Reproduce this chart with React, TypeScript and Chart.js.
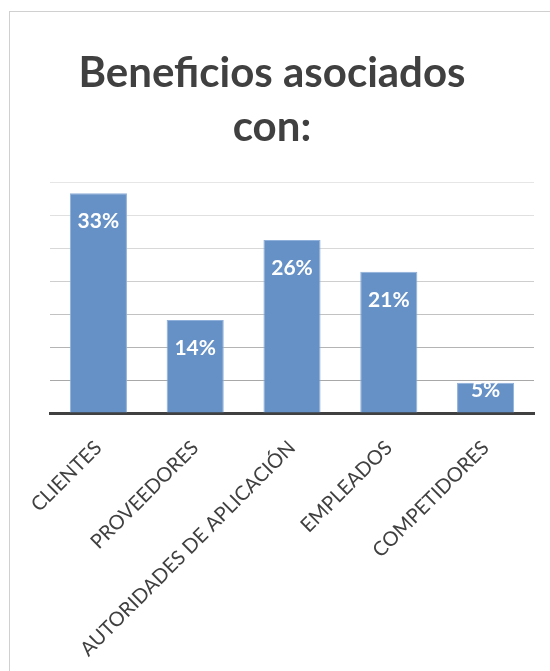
import React, { useEffect, useRef } from "react";
import { Chart, registerables } from "chart.js";

Chart.register(...registerables);

const categories = [
  "CLIENTES",
  "PROVEEDORES",
  "AUTORIDADES DE APLICACIÓN",
  "EMPLEADOS",
  "COMPETIDORES",
];
const values = [33.3, 14.1, 26.2, 21.4, 4.6];
const titleLines = ["Beneficios asociados", "con:"];
const yMin = 0;
const yMax = 35;
const yStep = 5;

const gridColors = [
  "#a0a0a0",
  "#a8a8a8",
  "#b4b4b4",
  "#c2c2c2",
  "#cecece",
  "#d8d8d8",
  "#e0e0e0",
  "#e6e6e6",
];

const FONT = "Lato, 'Open Sans', sans-serif";

const labelPlugin = {
  id: "barLabels",
  afterDatasetsDraw(chart: any) {
    const ctx = chart.ctx;
    const meta = chart.getDatasetMeta(0);
    ctx.save();
    ctx.fillStyle = "#ffffff";
    ctx.font = `bold 21px ${FONT}`;
    ctx.textAlign = "center";
    ctx.textBaseline = "middle";
    meta.data.forEach((bar: any, i: number) => {
      const v = chart.data.datasets[0].data[i] as number;
      const y = Math.min(bar.y + 28, bar.base - 22);
      ctx.fillText(`${Math.round(v)}%`, bar.x, y);
    });
    ctx.restore();
  },
};

export default function App() {
  const ref = useRef<HTMLCanvasElement>(null);

  useEffect(() => {
    document.body.style.margin = "0";
    const chart = new Chart(ref.current!, {
      type: "bar",
      data: {
        labels: categories,
        datasets: [
          {
            data: values,
            backgroundColor: "#6691c6",
            borderColor: "#8fb0da",
            borderWidth: 1,
            categoryPercentage: 1,
            barPercentage: 0.59,
          },
        ],
      },
      options: {
        animation: false,
        responsive: false,
        maintainAspectRatio: false,
        layout: { padding: { left: 0, right: 16, top: 0, bottom: 0 } },
        plugins: {
          legend: { display: false },
          tooltip: { enabled: false },
          title: {
            display: true,
            text: titleLines,
            color: "#404040",
            font: { family: FONT, size: 42, weight: "bold", lineHeight: 54 / 42 },
            padding: { top: 34, bottom: 28 },
          },
        },
        scales: {
          x: {
            grid: { display: false, drawTicks: false },
            border: { display: true, color: "#404040", width: 3 },
            ticks: {
              color: "#404040",
              font: { family: FONT, size: 20 },
              minRotation: 45,
              maxRotation: 45,
              autoSkip: false,
              padding: 23,
            },
            afterFit: (s: any) => {
              s.height = 258;
              s.paddingLeft = 0;
              s.paddingRight = 0;
            },
          },
          y: {
            min: yMin,
            max: yMax,
            ticks: { display: false, stepSize: yStep },
            grid: { color: gridColors, lineWidth: 1, drawTicks: false },
            border: { display: false },
            afterFit: (s: any) => {
              s.width = 40;
            },
          },
        },
      },
      plugins: [labelPlugin],
    });
    return () => chart.destroy();
  }, []);

  return (
    <div style={{ position: "relative", width: 550, height: 671, overflow: "hidden", background: "#fff" }}>
      <div
        style={{
          position: "absolute",
          left: 9,
          top: 11,
          width: 620,
          height: 720,
          borderLeft: "1px solid #d0d0d0",
          borderTop: "1px solid #d0d0d0",
        }}
      />
      <canvas
        ref={ref}
        width={540}
        height={659}
        style={{ position: "absolute", left: 10, top: 12, width: 540, height: 659 }}
      />
    </div>
  );
}
